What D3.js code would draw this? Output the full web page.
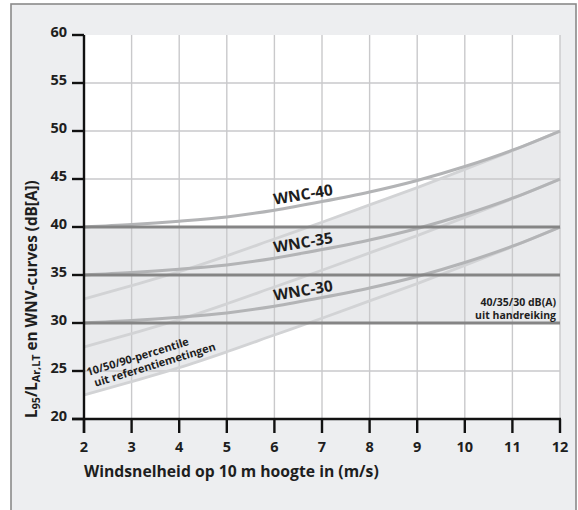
<!DOCTYPE html>
<html><head><meta charset="utf-8">
<script src="https://cdn.jsdelivr.net/npm/d3@7/dist/d3.min.js"></script>
<style>body{margin:0;background:#fff}svg{display:block}text{font-family:"Open Sans",sans-serif;fill:#1e1e1e}</style>
</head><body><svg id="c" width="578" height="510"></svg>
<script>
// ---- data ----
const windSpeed = [2,3,4,5,6,7,8,9,10,11,12];
const wnc40 = [40, 40.25, 40.6, 41.05, 41.75, 42.65, 43.65, 44.85, 46.3, 48.0, 50];
const wnc35 = [35, 35.25, 35.6, 36.05, 36.75, 37.65, 38.65, 39.85, 41.3, 43.0, 45];
const wnc30 = [30, 30.25, 30.6, 31.05, 31.75, 32.65, 33.65, 34.85, 36.3, 38.0, 40];
const p90 = [32.5, 33.9, 35.35, 37.0, 38.75, 40.5, 42.3, 44.1, 46.0, 47.95, 50];
const p50 = [27.5, 28.9, 30.35, 32.0, 33.75, 35.5, 37.3, 39.1, 41.0, 42.95, 45];
const p10 = [22.5, 23.9, 25.35, 27.0, 28.75, 30.5, 32.3, 34.1, 36.0, 37.95, 40];
const handreiking = [40, 35, 30];
const xTicks = [2,3,4,5,6,7,8,9,10,11,12];
const yTicks = [20,25,30,35,40,45,50,55,60];
const wncLabels = ["WNC-40","WNC-35","WNC-30"];

const svg = d3.select("#c");
const x = d3.scaleLinear().domain([2,12]).range([84,560]);
const y = d3.scaleLinear().domain([20,60]).range([419,35]);

function fit(sel, target){
  const fs = parseFloat(sel.attr("font-size"));
  const w = sel.node().getComputedTextLength();
  if (w > 0) sel.attr("font-size", (fs*target/w).toFixed(2));
}

// frame
svg.append("rect").attr("x",11).attr("y",4).attr("width",565).attr("height",530)
  .attr("fill","#edeef0").attr("stroke","#8a8a8a").attr("stroke-width",1.6);
// plot bg
svg.append("rect").attr("x",x(2)).attr("y",y(60)).attr("width",x(12)-x(2)).attr("height",y(20)-y(60)).attr("fill","#fff");

const shade = "#e9eaec";
svg.append("rect").attr("x",x(2)).attr("y",y(40)).attr("width",x(12)-x(2)).attr("height",y(30)-y(40)).attr("fill",shade);
const pts = windSpeed.map((w,i)=>({w, lo:p10[i], hi:p90[i]}));
svg.append("path").datum(pts).attr("fill",shade)
  .attr("d", d3.area().x(d=>x(d.w)).y0(d=>y(d.lo)).y1(d=>y(d.hi)).curve(d3.curveMonotoneX));

// grid
const grid = svg.append("g").attr("stroke","#c9c9cb").attr("stroke-width",1.4);
xTicks.filter(t=>t>2).forEach(t=>grid.append("line").attr("x1",x(t)).attr("x2",x(t)).attr("y1",y(60)).attr("y2",y(20)));
yTicks.filter(t=>t>20 && t<60).forEach(t=>grid.append("line").attr("x1",x(2)).attr("x2",x(12)).attr("y1",y(t)).attr("y2",y(t)));

const line = d3.line().x((d,i)=>x(windSpeed[i])).y(d=>y(d)).curve(d3.curveMonotoneX);
[p10,p50,p90].forEach(s=>svg.append("path").attr("d",line(s)).attr("fill","none").attr("stroke","#d2d3d5").attr("stroke-width",2.8));
[wnc40,wnc35,wnc30].forEach(s=>svg.append("path").attr("d",line(s)).attr("fill","none").attr("stroke","#b3b4b6").attr("stroke-width",3));
handreiking.forEach(v=>svg.append("line").attr("x1",x(2)).attr("x2",x(12)).attr("y1",y(v)).attr("y2",y(v)).attr("stroke","#858585").attr("stroke-width",3));

// axes
const ax = svg.append("g").attr("stroke","#111").attr("stroke-width",2.4);
ax.append("line").attr("x1",x(2)).attr("x2",x(2)).attr("y1",y(60)).attr("y2",y(20)+14);
ax.append("line").attr("x1",x(2)-12).attr("x2",x(12)+1).attr("y1",y(20)).attr("y2",y(20));
yTicks.forEach(t=>ax.append("line").attr("x1",x(2)-12).attr("x2",x(2)).attr("y1",y(t)).attr("y2",y(t)));
xTicks.forEach(t=>ax.append("line").attr("x1",x(t)).attr("x2",x(t)).attr("y1",y(20)).attr("y2",y(20)+14));

yTicks.forEach(t=>svg.append("text").attr("x",x(2)-17).attr("y",y(t)+1.5).attr("text-anchor","end")
  .attr("font-size",14.5).attr("font-weight",700).text(t));
xTicks.forEach(t=>svg.append("text").attr("x",x(t)).attr("y",452).attr("text-anchor","middle")
  .attr("font-size",14.5).attr("font-weight",700).text(t));

const xt = svg.append("text").attr("x",84).attr("y",477).attr("font-size",15).attr("font-weight",700)
  .text("Windsnelheid op 10 m hoogte in (m/s)");
fit(xt, 295);

const yt = svg.append("text").attr("transform","translate(37,418) rotate(-90)").attr("font-size",15).attr("font-weight",700);
yt.append("tspan").text("L");
yt.append("tspan").attr("font-size","0.7em").attr("dy",3).text("95");
yt.append("tspan").attr("dy",-3).text("/L");
yt.append("tspan").attr("font-size","0.7em").attr("dy",3).text("Ar,LT");
yt.append("tspan").attr("dy",-3).text(" en WNV-curves (dB[A])");
fit(yt, 238);

// WNC labels
[wnc40,wnc35,wnc30].forEach((s,i)=>{
  const t = svg.append("text").attr("transform",`translate(${x(6.0)},${y(s[4])-5.5}) rotate(-9.5)`)
    .attr("font-size",15).attr("font-weight",700).text(wncLabels[i]);
  fit(t, 60);
});

// percentile label
const pl = svg.append("text").attr("transform","translate(88,376) rotate(-17)").attr("font-size",11).attr("font-weight",700);
pl.append("tspan").attr("x",0).attr("y",0).text("10/50/90-percentile");
pl.append("tspan").attr("x",4).attr("y",12.5).text("uit referentiemetingen");

svg.append("text").attr("text-anchor","end").attr("font-size",10.5).attr("font-weight",700)
  .attr("x",556).attr("y",306).text("40/35/30 dB(A)");
svg.append("text").attr("text-anchor","end").attr("font-size",10.5).attr("font-weight",700)
  .attr("x",556).attr("y",318.5).text("uit handreiking");
</script></body></html>
